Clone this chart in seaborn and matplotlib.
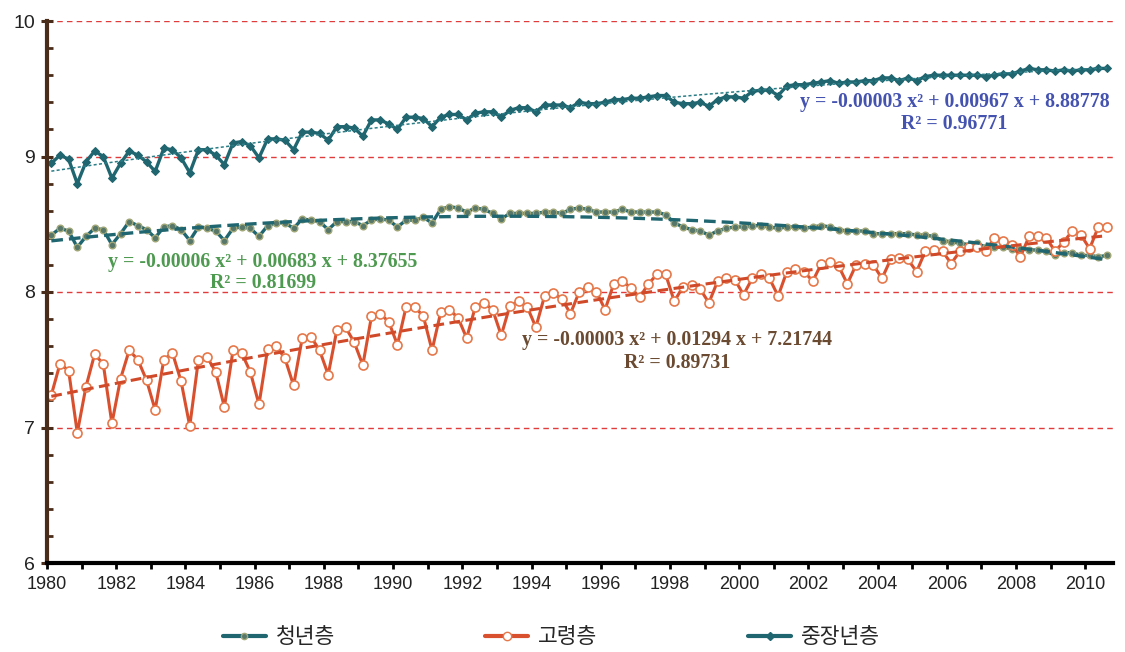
import numpy as np
import pandas as pd
import matplotlib
matplotlib.use("Agg")
import matplotlib.pyplot as plt
import seaborn as sns
from matplotlib.ticker import MultipleLocator
from matplotlib.lines import Line2D

# ---------------- data (quarterly, 1980Q1 .. 2010Q3) ----------------
series_names = ["청년층", "고령층", "중장년층"]

young = [
    8.42, 8.47, 8.45, 8.33, 8.41, 8.47, 8.46, 8.35, 8.43, 8.52, 8.49, 8.46, 8.40, 8.48, 8.49, 8.46,
    8.38, 8.48, 8.47, 8.45, 8.38, 8.47,
    8.48, 8.47, 8.41, 8.49, 8.51, 8.51, 8.47, 8.54, 8.53, 8.52, 8.46, 8.52, 8.52, 8.52, 8.49, 8.53,
    8.54, 8.53, 8.48, 8.53, 8.53, 8.55,
    8.51, 8.61, 8.63, 8.62, 8.59, 8.62, 8.61, 8.58, 8.54, 8.58, 8.58, 8.58, 8.58, 8.59, 8.59, 8.58,
    8.61, 8.62, 8.61, 8.59, 8.59, 8.59,
    8.61, 8.59, 8.59, 8.59, 8.59, 8.57, 8.51, 8.48, 8.46, 8.45, 8.42, 8.45, 8.47, 8.48, 8.48, 8.49,
    8.49, 8.48, 8.47, 8.48, 8.48, 8.47,
    8.48, 8.49, 8.48, 8.46, 8.45, 8.45, 8.45, 8.43, 8.43, 8.43, 8.43, 8.43, 8.42, 8.42, 8.41, 8.38,
    8.37,
    8.36, 8.35, 8.36, 8.33, 8.33, 8.33, 8.32, 8.32, 8.31, 8.31, 8.30, 8.27, 8.29, 8.29, 8.27, 8.27,
    8.26, 8.27,
]

elderly = [
    7.24, 7.47, 7.42, 6.96, 7.30, 7.54, 7.47, 7.03, 7.36, 7.57, 7.50, 7.35, 7.13, 7.50, 7.55, 7.34,
    7.01, 7.50, 7.52, 7.41, 7.15, 7.57,
    7.55, 7.41, 7.17, 7.58, 7.60, 7.51, 7.31, 7.66, 7.67, 7.57, 7.39, 7.72, 7.74, 7.63, 7.46, 7.82,
    7.84, 7.78, 7.61, 7.89, 7.89, 7.82,
    7.57, 7.85, 7.87, 7.81, 7.66, 7.89, 7.92, 7.87, 7.68, 7.90, 7.93, 7.89, 7.74, 7.97, 7.99, 7.95,
    7.84, 8.00, 8.04, 8.00, 7.87, 8.06,
    8.08, 8.03, 7.96, 8.06, 8.13, 8.13, 7.93, 8.04, 8.05, 8.02, 7.92, 8.08, 8.10, 8.09, 7.98, 8.10,
    8.13, 8.10, 7.97, 8.15, 8.17, 8.15,
    8.08, 8.21, 8.22, 8.19, 8.06, 8.20, 8.21, 8.20, 8.10, 8.24, 8.25, 8.24, 8.15, 8.30, 8.31, 8.30,
    8.21,
    8.30, 8.33, 8.33, 8.30, 8.40, 8.38, 8.35, 8.26, 8.41, 8.41, 8.40, 8.30, 8.37, 8.45, 8.42, 8.32,
    8.48, 8.48,
]

middle = [
    8.95, 9.01, 8.98, 8.80, 8.96, 9.04, 9.00, 8.84, 8.95, 9.04, 9.01, 8.96, 8.89, 9.06, 9.05, 8.99,
    8.88, 9.05, 9.05, 9.01, 8.94, 9.10,
    9.11, 9.08, 8.99, 9.13, 9.13, 9.12, 9.05, 9.18, 9.18, 9.17, 9.12, 9.22, 9.22, 9.21, 9.15, 9.27,
    9.27, 9.24, 9.20, 9.29, 9.29, 9.28,
    9.22, 9.29, 9.31, 9.31, 9.27, 9.32, 9.33, 9.33, 9.29, 9.34, 9.36, 9.36, 9.33, 9.38, 9.38, 9.38,
    9.36, 9.40, 9.39, 9.39, 9.40, 9.42,
    9.42, 9.43, 9.43, 9.44, 9.45, 9.45, 9.40, 9.39, 9.39, 9.40, 9.37, 9.42, 9.44, 9.44, 9.43, 9.48,
    9.49, 9.49, 9.45, 9.52, 9.53, 9.53,
    9.54, 9.55, 9.56, 9.54, 9.55, 9.55, 9.56, 9.56, 9.58, 9.58, 9.56, 9.58, 9.56, 9.59, 9.60, 9.60,
    9.60,
    9.60, 9.60, 9.60, 9.59, 9.60, 9.61, 9.61, 9.63, 9.65, 9.64, 9.64, 9.63, 9.64, 9.63, 9.64, 9.64,
    9.65, 9.65,
]

eq_middle = ["y = -0.00003 x² + 0.00967 x + 8.88778", "R² = 0.96771"]
eq_young = ["y = -0.00006 x² + 0.00683 x + 8.37655", "R² = 0.81699"]
eq_elderly = ["y = -0.00003 x² + 0.01294 x + 7.21744", "R² = 0.89731"]

# quarter mid-points as decimal years
quarters = pd.period_range("1980Q1", periods=len(middle), freq="Q")
years = np.array([q.year + (q.quarter - 0.5) / 4 for q in quarters])

# ---------------- styling ----------------
TEAL = "#1f6670"
ORANGE = "#d9502e"
GRID_RED = "#e03c3c"

sns.set_theme(style="white")
plt.rcParams["font.family"] = ["Noto Sans CJK KR", "DejaVu Sans"]

fig = plt.figure(figsize=(11.25, 6.52), dpi=100)
ax = fig.add_axes([47 / 1125, 1 - 563 / 652, (1113 - 47) / 1125, (563 - 21) / 652])

# series
sns.lineplot(x=years, y=young, ax=ax, color=TEAL, lw=2.4, marker="o", markersize=4.8,
             markerfacecolor="#56776a", markeredgecolor="#a3a878", markeredgewidth=1.0, zorder=4)
sns.lineplot(x=years, y=elderly, ax=ax, color=ORANGE, lw=2.2, marker="o", markersize=6.5,
             markerfacecolor="white", markeredgecolor="#e5784a", markeredgewidth=1.2, zorder=4)
sns.lineplot(x=years, y=middle, ax=ax, color=TEAL, lw=2.4, marker="D", markersize=4.5,
             markerfacecolor=TEAL, markeredgecolor=TEAL, zorder=4)

# polynomial (order 2) trend lines
sns.regplot(x=years, y=middle, order=2, scatter=False, ci=None, ax=ax,
            line_kws=dict(color="#2a7d86", lw=1.1, ls=(0, (2, 1.5)), zorder=5))
sns.regplot(x=years, y=young, order=2, scatter=False, ci=None, ax=ax,
            line_kws=dict(color=TEAL, lw=2.4, ls=(0, (3.5, 1.8)), zorder=5))
sns.regplot(x=years, y=elderly, order=2, scatter=False, ci=None, ax=ax,
            line_kws=dict(color="#d04a2a", lw=2.2, ls=(0, (3.5, 1.8)), zorder=5))

if ax.get_legend() is not None:
    ax.get_legend().remove()

# axes
ax.set_xlim(1980, 2010.8)
ax.set_ylim(6, 10)
ax.set_xlabel("")
ax.set_ylabel("")
ax.xaxis.set_major_locator(MultipleLocator(2))
ax.xaxis.set_minor_locator(MultipleLocator(1))
ax.yaxis.set_major_locator(MultipleLocator(1))
ax.yaxis.set_minor_locator(MultipleLocator(0.2))
ax.xaxis.set_major_formatter(plt.FuncFormatter(lambda v, p: f"{int(round(v))}"))
ax.yaxis.set_major_formatter(plt.FuncFormatter(lambda v, p: f"{int(round(v))}"))

ax.grid(False)
ax.yaxis.grid(True, which="major", color=GRID_RED, ls=(0, (4, 3)), lw=1.0)
ax.set_axisbelow(True)

for s in ["top", "right"]:
    ax.spines[s].set_visible(False)
ax.spines["left"].set_color("#4a2c1a")
ax.spines["left"].set_linewidth(3)
ax.spines["bottom"].set_color("black")
ax.spines["bottom"].set_linewidth(3)
ax.spines["left"].set_zorder(6)
ax.spines["bottom"].set_zorder(6)

ax.tick_params(axis="y", which="major", direction="inout", length=9, width=2.2,
               color="#4a2c1a", left=True, labelsize=14, pad=4, labelcolor="#222222")
ax.tick_params(axis="y", which="minor", direction="in", length=4.5, width=2.0,
               color="#4a2c1a", left=True)
ax.tick_params(axis="x", which="both", direction="out", length=4.5, width=2.0,
               color="black", bottom=True, labelsize=13, pad=5, labelcolor="#222222")
for lab in ax.get_yticklabels():
    lab.set_fontfamily(["Liberation Sans", "DejaVu Sans"])
for lab in ax.get_xticklabels():
    lab.set_fontfamily(["Liberation Sans Narrow", "Liberation Sans", "DejaVu Sans"])

# equation annotations
serif = ["Liberation Serif", "DejaVu Serif"]
eq_style = dict(ha="center", va="center", fontsize=14.3, fontweight="bold", family=serif, zorder=7)
ax.text(2006.22, 9.40, eq_middle[0], color="#4452b0", **eq_style)
ax.text(2006.22, 9.24, eq_middle[1], color="#4452b0", **eq_style)
ax.text(1986.23, 8.22, eq_young[0], color="#4e9a50", **eq_style)
ax.text(1986.23, 8.065, eq_young[1], color="#4e9a50", **eq_style)
ax.text(1998.2, 7.646, eq_elderly[0], color="#6a4a30", **eq_style)
ax.text(1998.2, 7.476, eq_elderly[1], color="#6a4a30", **eq_style)

# legend
handles = [
    Line2D([], [], color=TEAL, lw=3, marker="o", markersize=4.5,
           markerfacecolor="#56776a", markeredgecolor="#a3a878"),
    Line2D([], [], color=ORANGE, lw=3, marker="o", markersize=6,
           markerfacecolor="white", markeredgecolor="#e5784a"),
    Line2D([], [], color=TEAL, lw=3, marker="D", markersize=4.5,
           markerfacecolor=TEAL, markeredgecolor=TEAL),
]
fig.legend(handles, series_names, loc="lower center", bbox_to_anchor=(0.49, -0.024),
           ncol=3, frameon=False, handlelength=2.0, columnspacing=7.0, fontsize=15.5,
           handletextpad=0.45)

fig.savefig("out.png", dpi=100)
